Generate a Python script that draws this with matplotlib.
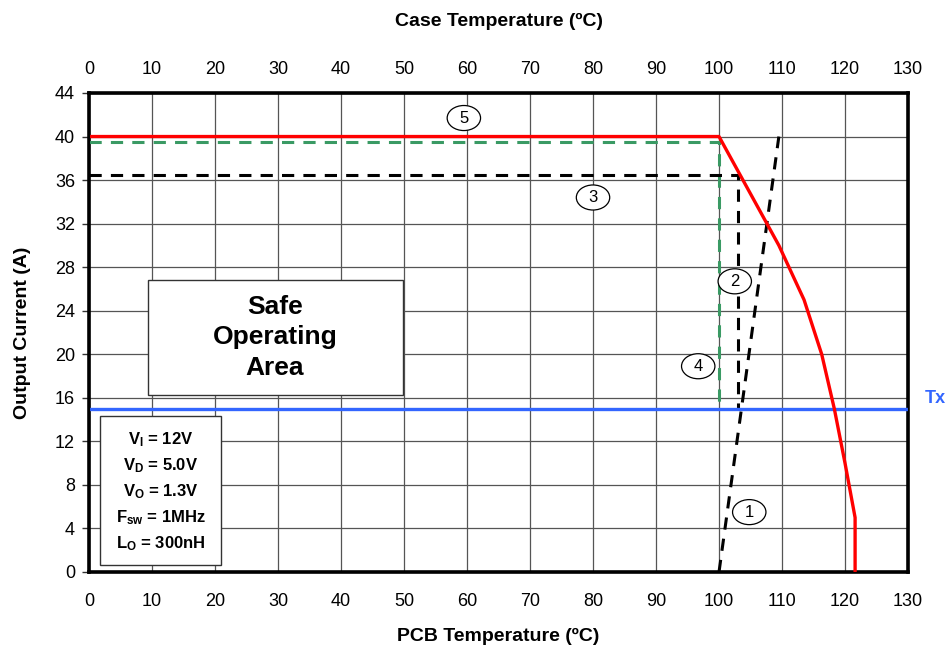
import matplotlib
matplotlib.use("Agg")
import matplotlib.pyplot as plt
from matplotlib.patches import Ellipse, Rectangle

plt.rcParams['font.family'] = ['Liberation Sans', 'DejaVu Sans']
plt.rcParams['mathtext.fontset'] = 'custom'
plt.rcParams['mathtext.rm'] = 'Liberation Sans:bold'
plt.rcParams['mathtext.it'] = 'Liberation Sans:bold'
plt.rcParams['mathtext.bf'] = 'Liberation Sans:bold'

# Data
x_ticks = list(range(0, 131, 10))
y_ticks = list(range(0, 45, 4))

curve5_x = [0, 100, 109.5, 113.5, 116.3, 118.3, 120.0, 121.6, 121.6]
curve5_y = [40, 40, 30, 25, 20, 15, 10, 5, 0]

curve4_x = [0, 100, 100]
curve4_y = [39.5, 39.5, 15]

curve3_x = [0, 103, 103]
curve3_y = [36.5, 36.5, 15]

curve1_x = [100, 109.5]
curve1_y = [0, 40]

tx_level = 15

labels = ['1', '2', '3', '4', '5']
label_x = [104.8, 102.5, 80.0, 96.7, 59.5]
label_y = [5.5, 26.7, 34.4, 18.9, 41.7]

params = [r'$\mathregular{V_I}$ = 12V', r'$\mathregular{V_D}$ = 5.0V',
          r'$\mathregular{V_O}$ = 1.3V', r'$\mathregular{F_{sw}}$ = 1MHz',
          r'$\mathregular{L_O}$ = 300nH']

fig = plt.figure(figsize=(9.51, 6.48), dpi=100)
ax = fig.add_axes([0.0936, 0.1173, 0.8612, 0.7392])
ax.set_xlim(0, 130)
ax.set_ylim(0, 44)
ax.set_xticks(x_ticks)
ax.set_yticks(y_ticks)
ax.grid(True, color='#555555', linewidth=0.9)
ax.set_axisbelow(True)
for s in ax.spines.values():
    s.set_linewidth(2.6)
ax.tick_params(axis='x', labelsize=13, length=0, pad=15)
ax.tick_params(axis='y', labelsize=13, length=5, width=1, color='#333333', pad=5)

ax.plot(curve4_x, curve4_y, color='#3A9A64', lw=2.2, ls=(0, (4, 3)), zorder=3)
ax.plot(curve3_x, curve3_y, color='black', lw=2.2, ls=(0, (4, 3)), zorder=3)
ax.plot(curve1_x, curve1_y, color='black', lw=2.2, ls=(0, (4, 3)), zorder=3)
ax.axhline(tx_level, color='#3366FF', lw=2.4, zorder=4)
ax.plot(curve5_x, curve5_y, color='#FF0000', lw=2.4, zorder=5)

for lab, lx, ly in zip(labels, label_x, label_y):
    ax.add_patch(Ellipse((lx, ly), 5.3, 2.3, facecolor='white', edgecolor='black', lw=0.9, zorder=6))
    ax.text(lx, ly, lab, ha='center', va='center', fontsize=12, zorder=7)

# Safe operating area box
ax.add_patch(Rectangle((9.3, 16.3), 40.5, 10.5, facecolor='white', edgecolor='#333333', lw=1.0, zorder=6))
ax.text(29.5, 21.55, 'Safe\nOperating\nArea', ha='center', va='center', fontsize=19,
        fontweight='bold', linespacing=1.35, zorder=7)

# Parameter box
ax.add_patch(Rectangle((1.7, 0.6), 19.3, 13.75, facecolor='white', edgecolor='#333333', lw=1.0, zorder=6))
for i, p in enumerate(params):
    ax.text(11.35, 12.2 - i * 2.4, p, ha='center', va='center', fontsize=12,
            fontweight='bold', zorder=7)

ax.text(1.02, tx_level + 0.9, 'Tx', transform=ax.get_yaxis_transform(), color='#3366FF',
        fontsize=13, fontweight='bold', va='center', ha='left')

ax.set_xlabel('PCB Temperature (ºC)', fontsize=14, fontweight='bold', labelpad=13)
ax.set_ylabel('Output Current (A)', fontsize=14, fontweight='bold', labelpad=17)

ax2 = ax.twiny()
ax2.set_xlim(0, 130)
ax2.set_xticks(x_ticks)
ax2.tick_params(labelsize=13, length=0, pad=11)
ax2.set_xlabel('Case Temperature (ºC)', fontsize=14, fontweight='bold', labelpad=25)

fig.savefig('out.png', dpi=100)
